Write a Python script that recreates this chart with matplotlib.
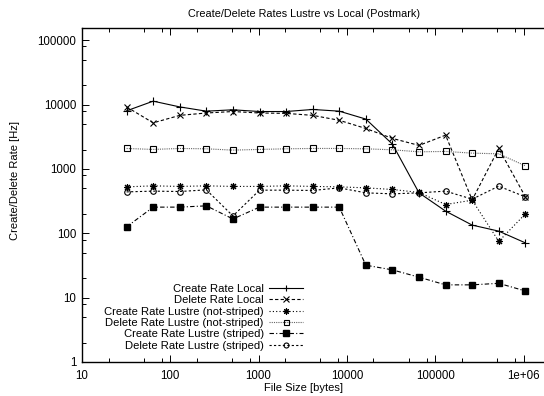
import matplotlib
matplotlib.use("Agg")
import matplotlib.pyplot as plt
from matplotlib.ticker import FixedLocator, FixedFormatter, LogLocator, NullFormatter

plt.rcParams['font.family'] = ['Liberation Sans', 'DejaVu Sans']

sizes = [32, 64, 128, 256, 512, 1024, 2048, 4096, 8192, 16384, 32768,
         65536, 131072, 262144, 524288, 1048576]
create_local = [8000, 11300, 9200, 7900, 8300, 7800, 7800, 8400, 7900, 5950,
                2430, 425, 221, 134, 108, 71]
delete_local = [9200, 5200, 6800, 7400, 7800, 7400, 7300, 6800, 5700, 4250,
                2980, 2320, 3350, 330, 2080, 370]
create_ns = [527, 546, 535, 546, 535, 535, 546, 535, 527, 508, 480, 431, 280,
             327, 75, 200]
delete_ns = [2080, 2010, 2080, 2055, 1960, 2010, 2055, 2080, 2080, 2055, 1983,
             1845, 1870, 1760, 1718, 1117]
create_s = [126, 255, 255, 267, 167, 255, 255, 255, 255, 31.9, 27, 20.8, 15.8,
            15.8, 16.7, 12.7]
delete_s = [440, 452, 446, 473, 186, 468, 468, 463, 508, 425, 410, 425, 452,
            339, 540, 368]

labels = ["Create Rate Local", "Delete Rate Local",
          "Create Rate Lustre (not-striped)", "Delete Rate Lustre (not-striped)",
          "Create Rate Lustre (striped)", "Delete Rate Lustre (striped)"]

xticks = [10, 100, 1000, 10000, 100000, 1000000]
xticklabels = ["10", "100", "1000", "10000", "100000", "1e+06"]
yticks = [1, 10, 100, 1000, 10000, 100000]
yticklabels = ["1", "10", "100", "1000", "10000", "100000"]

title = "Create/Delete Rates Lustre vs Local (Postmark)"
xlabel = "File Size [bytes]"
ylabel = "Create/Delete Rate [Hz]"

W, H = 544, 396
fig = plt.figure(figsize=(W / 100, H / 100), dpi=100)
L, R, T, B = 82, 550.1, 28, 362
ax = fig.add_axes([L / W, 1 - B / H, (R - L) / W, (B - T) / H])
ax.set_xscale('log')
ax.set_yscale('log')

lw = 0.8
ax.plot(sizes, create_local, color='black', lw=lw, ls='-', marker='+', ms=5.5,
        mew=0.8, label=labels[0])
ax.plot(sizes, delete_local, color='black', lw=lw, ls=(0, (3, 2)), marker='x', ms=4.5,
        mew=0.8, label=labels[1])
ax.plot(sizes, create_ns, color='black', lw=lw, ls=(0, (1, 2)), marker=(8, 2, 0),
        ms=5, mew=0.8, label=labels[2])
ax.plot(sizes, delete_ns, color='#666666', lw=lw, ls=(0, (1, 1)), marker='s', ms=4,
        mfc='none', mec='black', mew=0.8, label=labels[3])
ax.plot(sizes, create_s, color='black', lw=lw, ls=(0, (4, 2, 1, 2)), marker='s',
        ms=5, mfc='black', mec='black', label=labels[4])
ax.plot(sizes, delete_s, color='black', lw=lw, ls=(0, (2, 2)), marker='o', ms=4,
        mfc='none', mec='black', mew=0.8, label=labels[5])

ax.set_xlim(10, 2e6)
ax.set_ylim(1, 10 ** 5.19)

ax.xaxis.set_major_locator(FixedLocator(xticks))
ax.xaxis.set_major_formatter(FixedFormatter(xticklabels))
ax.yaxis.set_major_locator(FixedLocator(yticks))
ax.yaxis.set_major_formatter(FixedFormatter(yticklabels))
ax.xaxis.set_minor_locator(LogLocator(base=10, subs=(2, 5, 8)))
ax.yaxis.set_minor_locator(LogLocator(base=10, subs=(2, 5, 8)))
ax.xaxis.set_minor_formatter(NullFormatter())
ax.yaxis.set_minor_formatter(NullFormatter())

ax.tick_params(which='both', direction='in', top=True, right=False, width=0.7,
               labelsize=8.3, color='black')
ax.tick_params(which='major', length=5)
ax.tick_params(which='minor', length=3)
ax.tick_params(axis='x', pad=6)
ax.tick_params(axis='y', pad=4)
for s in ax.spines.values():
    s.set_linewidth(1.0)

fig.text(304 / W, 1 - 14 / H, title, ha='center', va='center', fontsize=7.8)
fig.text(304 / W, 1 - 388 / H, xlabel, ha='center', va='center', fontsize=8)
fig.text(15 / W, 1 - 180 / H, ylabel, ha='center', va='center', rotation=90,
         fontsize=8)

leg = ax.legend(loc='upper right', bbox_to_anchor=(303 / W, 1 - 284 / H),
                bbox_transform=fig.transFigure, frameon=False, markerfirst=False,
                fontsize=8.1, borderpad=0, labelspacing=0.12, handlelength=3.0,
                handletextpad=0.5, borderaxespad=0, markerscale=0.9)

fig.savefig("out.png", dpi=100)
